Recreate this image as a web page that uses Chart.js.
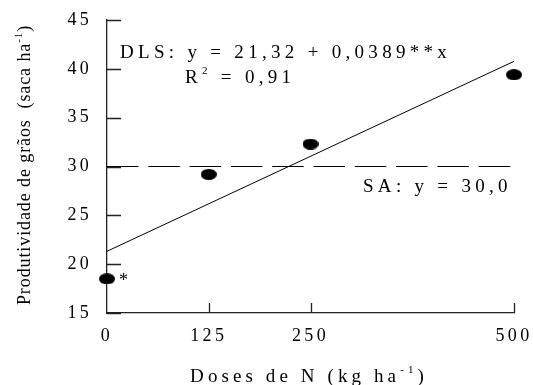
<!DOCTYPE html>
<html lang="pt">
<head>
<meta charset="UTF-8">
<title>Produtividade de grãos</title>
<script src="https://cdn.jsdelivr.net/npm/chart.js"></script>
<style>
  body { margin: 0; background: #fff; }
</style>
</head>
<body>
<canvas id="myChart" width="533" height="385"></canvas>
<script>
// dados
const doses = [0, 125, 250, 500];
const produtividade = [18.5, 29.2, 32.3, 39.4];
const dlsX = [0, 500];
const dlsY = [21.32, 40.77];
const saX = [0, 500];
const saY = [30, 30];
const xTicks = [0, 125, 250, 500];
const yTicks = [15, 20, 25, 30, 35, 40, 45];

const FONT = '"Liberation Serif", "Times New Roman", serif';

function ellipseDot(w, h) {
    const c = document.createElement('canvas');
    c.width = w;
    c.height = h;
    const g = c.getContext('2d');
    g.fillStyle = '#000';
    g.beginPath();
    g.ellipse(w / 2, h / 2, w / 2, h / 2, 0, 0, Math.PI * 2);
    g.fill();
    return c;
}

// texto com expoentes (sup)
function drawRuns(ctx, runs, x, y, size, spacing, align) {
    ctx.save();
    ctx.fillStyle = '#000';
    ctx.textBaseline = 'alphabetic';
    ctx.textAlign = 'left';
    ctx.letterSpacing = spacing + 'px';
    const fonts = runs.map(r => (r.sup ? Math.round(size * 0.6) : size) + 'px ' + FONT);
    const widths = runs.map((r, i) => { ctx.font = fonts[i]; return ctx.measureText(r.t).width; });
    const total = widths.reduce((a, b) => a + b, 0);
    let cx = align === 'center' ? x - total / 2 : x;
    runs.forEach((r, i) => {
        ctx.font = fonts[i];
        ctx.fillText(r.t, cx, r.sup ? y - size * 0.45 : y);
        cx += widths[i];
    });
    ctx.restore();
}

const decorPlugin = {
    id: 'decor',
    beforeDraw(chart) {
        chart.ctx.letterSpacing = '3.3px';
    },
    afterDraw(chart) {
        const ctx = chart.ctx;
        const xs = chart.scales.x, ys = chart.scales.y;
        const area = chart.chartArea;

        // marcas dos eixos para dentro
        ctx.save();
        ctx.strokeStyle = '#222';
        ctx.lineWidth = 1.3;
        ctx.beginPath();
        yTicks.forEach(v => {
            const py = Math.round(ys.getPixelForValue(v)) + 0.5;
            ctx.moveTo(area.left, py);
            ctx.lineTo(area.left + 14, py);
        });
        xTicks.forEach(v => {
            if (v === 0) return;
            const px = Math.round(xs.getPixelForValue(v)) + 0.5;
            ctx.moveTo(px, area.bottom);
            ctx.lineTo(px, area.bottom - 10);
        });
        ctx.stroke();
        ctx.restore();

        // equações
        drawRuns(ctx, [{ t: 'DLS: y = 21,32 + 0,0389**x' }], 120, 58, 19, 4.3);
        drawRuns(ctx, [{ t: 'R' }, { t: '2', sup: true }, { t: ' = 0,91' }], 185, 83, 19, 4.3);
        drawRuns(ctx, [{ t: 'SA: y = 30,0' }], 363, 192, 19, 4.3);
        drawRuns(ctx, [{ t: '*' }], 119, 286, 18, 0);

        // títulos dos eixos
        drawRuns(ctx, [{ t: 'Doses de N (kg ha' }, { t: '-1', sup: true }, { t: ')' }], 309, 382, 19, 4.1, 'center');
        ctx.save();
        ctx.translate(30, 165);
        ctx.rotate(-Math.PI / 2);
        drawRuns(ctx, [{ t: 'Produtividade de grãos  (saca ha' }, { t: '-1', sup: true }, { t: ')' }], 0, 0, 18, 0.9, 'center');
        ctx.restore();
    }
};

const ctx = document.getElementById('myChart').getContext('2d');
new Chart(ctx, {
    type: 'scatter',
    data: {
        datasets: [
            {
                label: 'SA',
                data: saX.map((x, i) => ({ x: x, y: saY[i] })),
                showLine: true,
                borderColor: '#000',
                borderWidth: 1,
                borderDash: [31.5, 9.8],
                pointRadius: 0
            },
            {
                label: 'DLS',
                data: dlsX.map((x, i) => ({ x: x, y: dlsY[i] })),
                showLine: true,
                borderColor: '#000',
                borderWidth: 1,
                pointRadius: 0
            },
            {
                label: 'Produtividade',
                data: doses.map((x, i) => ({ x: x, y: produtividade[i] })),
                pointStyle: ellipseDot(16, 11),
                pointRadius: 8,
                clip: false
            }
        ]
    },
    options: {
        responsive: false,
        animation: false,
        devicePixelRatio: 1,
        layout: { padding: { top: 20, right: 19, left: 0, bottom: 0 } },
        scales: {
            x: {
                type: 'linear',
                min: 0,
                max: 500,
                afterBuildTicks: s => { s.ticks = xTicks.map(v => ({ value: v })); },
                afterFit: s => { s.height = 72; s.paddingLeft = 0; s.paddingRight = 0; },
                grid: { display: false, drawTicks: false },
                border: { color: '#222', width: 1.3 },
                ticks: {
                    color: '#000',
                    font: { family: FONT, size: 18 },
                    padding: 12,
                    maxRotation: 0,
                    autoSkip: false
                }
            },
            y: {
                min: 15,
                max: 45,
                afterBuildTicks: s => { s.ticks = yTicks.map(v => ({ value: v })); },
                afterFit: s => { s.width = 107; s.paddingTop = 0; s.paddingBottom = 0; },
                grid: { display: false, drawTicks: false },
                border: { color: '#222', width: 1.3 },
                ticks: {
                    color: '#000',
                    font: { family: FONT, size: 18 },
                    padding: 15
                }
            }
        },
        plugins: {
            legend: { display: false },
            tooltip: { enabled: false }
        }
    },
    plugins: [decorPlugin]
});
</script>
</body>
</html>
